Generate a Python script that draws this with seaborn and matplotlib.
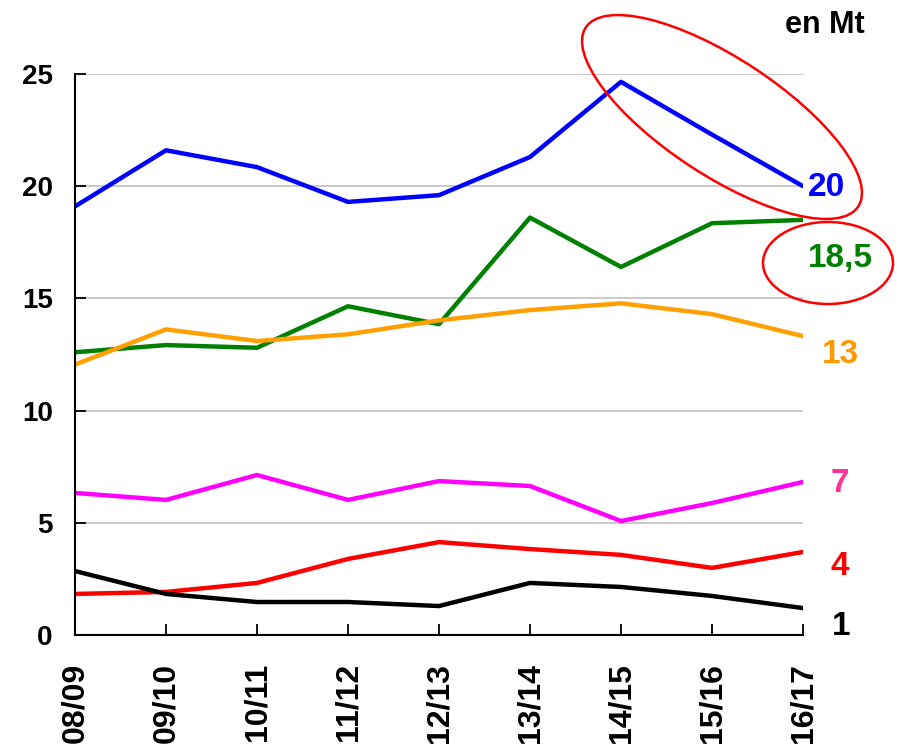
import numpy as np
import pandas as pd
import matplotlib
matplotlib.use('Agg')
import matplotlib.pyplot as plt
from matplotlib.patches import Ellipse
from matplotlib.transforms import IdentityTransform
import seaborn as sns

# campaigns and series (Mt)
seasons = ['08/09', '09/10', '10/11', '11/12', '12/13', '13/14', '14/15', '15/16', '16/17']
blue_vals = [19.1, 21.6, 20.85, 19.3, 19.6, 21.3, 24.65, 22.3, 20.0]
green_vals = [12.6, 12.92, 12.8, 14.65, 13.85, 18.6, 16.4, 18.35, 18.5]
orange_vals = [12.05, 13.62, 13.1, 13.4, 14.02, 14.48, 14.78, 14.3, 13.32]
magenta_vals = [6.33, 6.02, 7.13, 6.02, 6.86, 6.64, 5.08, 5.88, 6.82]
red_vals = [1.83, 1.92, 2.32, 3.39, 4.14, 3.83, 3.57, 2.99, 3.7]
black_vals = [2.85, 1.83, 1.47, 1.47, 1.29, 2.32, 2.14, 1.74, 1.2]
end_labels = ['20', '18,5', '13', '7', '4', '1']

series = {'blue': blue_vals, 'green': green_vals, 'orange': orange_vals,
          'magenta': magenta_vals, 'red': red_vals, 'black': black_vals}
line_colors = {'blue': '#0000ff', 'green': '#008000', 'orange': '#ffa000',
               'magenta': '#ff00ff', 'red': '#ff0000', 'black': '#000000'}
label_colors = ['#0000ff', '#008000', '#ff9900', '#ff3399', '#ff0000', '#000000']

df = pd.concat([pd.DataFrame({'pos': range(len(seasons)), 'val': v, 'serie': k})
                for k, v in series.items()], ignore_index=True)

sns.set_style('white')
plt.rcParams['font.family'] = ['Liberation Sans', 'DejaVu Sans']
plt.rcParams['font.weight'] = 'bold'

fig = plt.figure(figsize=(8.97, 7.47), dpi=100)
ax = fig.add_axes([75/897, 1-635/747, (803-75)/897, (635-74)/747])

sns.lineplot(data=df, x='pos', y='val', hue='serie', palette=line_colors,
             linewidth=3.2, legend=False, ax=ax)

ax.set_xlim(0, len(seasons) - 1)
ax.set_ylim(0, 25)
ax.set_yticks([0, 5, 10, 15, 20, 25])
ax.set_xticks(range(len(seasons)))
ax.set_xticklabels(seasons, rotation=90, fontsize=23, fontweight='bold', va='top', color='black')
ax.set_yticklabels([0, 5, 10, 15, 20, 25], fontsize=20, fontweight='bold', color='black')
ax.tick_params(axis='y', left=True, direction='in', length=8, width=1.3, pad=16, color='black')
ax.tick_params(axis='x', bottom=True, direction='in', length=8, width=1.3, pad=20, color='black')
ax.set_xlabel('')
ax.set_ylabel('')
for y in [5, 10, 15, 20, 25]:
    ax.axhline(y, color='#c0c0c0', linewidth=1.2, zorder=0)
for s in ['top', 'right']:
    ax.spines[s].set_visible(False)
for s in ['left', 'bottom']:
    ax.spines[s].set_color('black')
    ax.spines[s].set_linewidth(1.5)

# end labels
label_x = [8.055, 8.055, 8.21, 8.3, 8.3, 8.32]
label_y = [19.96, 16.76, 12.52, 6.73, 3.07, 0.36]
for t, c, lx, ly in zip(end_labels, label_colors, label_x, label_y):
    ax.text(lx, ly, t, color=c, fontsize=24, fontweight='bold',
            ha='left', va='center', clip_on=False)

fig.text(785/897, 1-25/747, 'en Mt', fontsize=22, fontweight='bold', va='center', ha='left',
         color='black')

# highlight ellipses (figure pixels)
H = 747
fig.add_artist(Ellipse((722, H-117), 326, 117, angle=-33.3, fill=False,
                       edgecolor='#ff0000', linewidth=1.8, transform=IdentityTransform()))
fig.add_artist(Ellipse((828, H-263), 130, 82, angle=0, fill=False,
                       edgecolor='#ff0000', linewidth=1.8, transform=IdentityTransform()))

fig.savefig('out.png', dpi=100)
